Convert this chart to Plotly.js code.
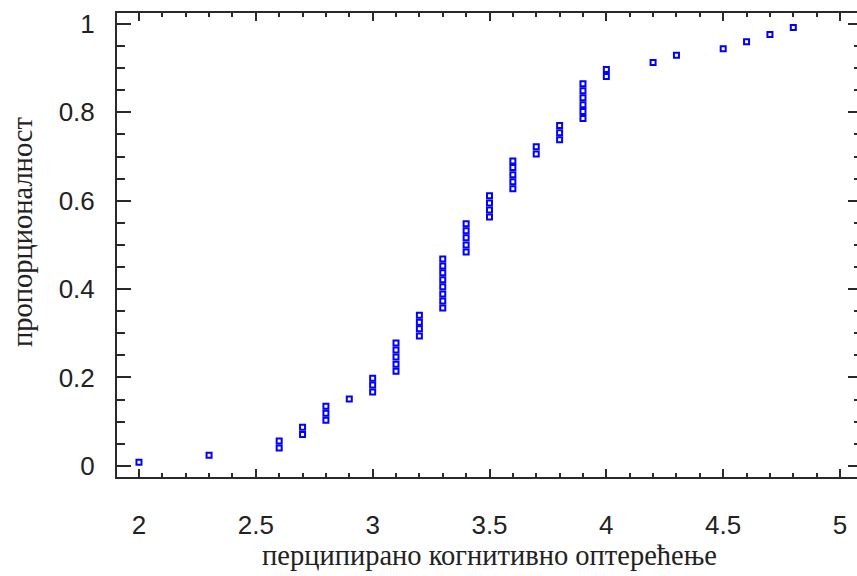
<!DOCTYPE html>
<html>
<head>
<meta charset="utf-8">
<script src="https://cdn.plot.ly/plotly-3.0.1.min.js"></script>
<style>
html,body{margin:0;padding:0;overflow:hidden;background:#fff;}
#chart{width:862px;height:576px;}
</style>
</head>
<body>
<div id="chart"></div>
<script>
// x: perceived cognitive load values (each point one observation)
const loadValues = [
  2.0, 2.3,
  2.6, 2.6,
  2.7, 2.7,
  2.8, 2.8, 2.8,
  2.9,
  3.0, 3.0, 3.0,
  3.1, 3.1, 3.1, 3.1, 3.1,
  3.2, 3.2, 3.2, 3.2,
  3.3, 3.3, 3.3, 3.3, 3.3, 3.3, 3.3, 3.3,
  3.4, 3.4, 3.4, 3.4, 3.4,
  3.5, 3.5, 3.5, 3.5,
  3.6, 3.6, 3.6, 3.6, 3.6,
  3.7, 3.7,
  3.8, 3.8, 3.8,
  3.9, 3.9, 3.9, 3.9, 3.9, 3.9,
  4.0, 4.0,
  4.2, 4.3, 4.5, 4.6, 4.7, 4.8
];
// y: proportion
const proportionValues = [
  0.008, 0.024,
  0.040, 0.056,
  0.071, 0.087,
  0.103, 0.119, 0.135,
  0.151,
  0.167, 0.183, 0.198,
  0.214, 0.230, 0.246, 0.262, 0.278,
  0.294, 0.310, 0.325, 0.341,
  0.357, 0.373, 0.389, 0.405, 0.421, 0.437, 0.452, 0.468,
  0.484, 0.500, 0.516, 0.532, 0.548,
  0.563, 0.579, 0.595, 0.611,
  0.627, 0.643, 0.659, 0.675, 0.690,
  0.706, 0.722,
  0.738, 0.754, 0.770,
  0.786, 0.802, 0.817, 0.833, 0.849, 0.865,
  0.881, 0.897,
  0.913, 0.929, 0.944, 0.960, 0.976, 0.992
];
const xTickVals = [2, 2.5, 3, 3.5, 4, 4.5, 5];
const xTickText = ['2', '2.5', '3', '3.5', '4', '4.5', '5'];
const yTickVals = [0, 0.2, 0.4, 0.6, 0.8, 1];
const yTickText = ['0', '0.2', '0.4', '0.6', '0.8', '1'];
const xTitle = 'перципирано когнитивно оптерећење';
const yTitle = 'пропорционалност';

const axisColor = '#2a2a2a';
const tickFont = {family: '"Liberation Sans", Arial, sans-serif', size: 26, color: '#222222'};
const titleFont = {family: '"Liberation Serif", "Times New Roman", serif', size: 28.5, color: '#222222'};

const trace = {
  x: loadValues,
  y: proportionValues,
  type: 'scatter',
  mode: 'markers',
  marker: {symbol: 'square-open', size: 5, color: '#0000ff', line: {width: 2, color: '#0000ff'}},
  hoverinfo: 'x+y'
};

const layout = {
  width: 862,
  height: 576,
  margin: {l: 117, r: 0, t: 13, b: 99},
  paper_bgcolor: '#ffffff',
  plot_bgcolor: '#ffffff',
  showlegend: false,
  xaxis: {
    range: [1.906, 5.094],
    tickmode: 'array',
    tickvals: xTickVals,
    ticktext: xTickText,
    ticks: 'inside',
    ticklen: 8,
    tickwidth: 2,
    tickcolor: axisColor,
    showline: true,
    linewidth: 2,
    linecolor: axisColor,
    mirror: 'ticks',
    showgrid: false,
    zeroline: false,
    tickfont: tickFont,
    ticklabelstandoff: 24,
    minor: {tickmode: 'linear', tick0: 0, dtick: 0.1, ticks: 'inside', ticklen: 4, tickwidth: 2, tickcolor: axisColor, showgrid: false},
    title: {text: xTitle, font: titleFont, standoff: 5}
  },
  yaxis: {
    range: [-0.0254, 1.0249],
    tickmode: 'array',
    tickvals: yTickVals,
    ticktext: yTickText,
    ticks: 'inside',
    ticklen: 14,
    tickwidth: 2,
    tickcolor: axisColor,
    showline: true,
    linewidth: 2,
    linecolor: axisColor,
    mirror: 'ticks',
    showgrid: false,
    zeroline: false,
    tickfont: tickFont,
    ticklabelstandoff: 15,
    minor: {tickmode: 'linear', tick0: 0, dtick: 0.05, ticks: 'inside', ticklen: 8, tickwidth: 2, tickcolor: axisColor, showgrid: false}
  },
  annotations: [{
    text: yTitle,
    font: titleFont,
    textangle: -90,
    xref: 'paper', yref: 'paper',
    x: 0, y: 0.528,
    xshift: -95,
    xanchor: 'center', yanchor: 'middle',
    showarrow: false
  }]
};

Plotly.newPlot('chart', [trace], layout, {displayModeBar: false, staticPlot: true});
</script>
</body>
</html>
